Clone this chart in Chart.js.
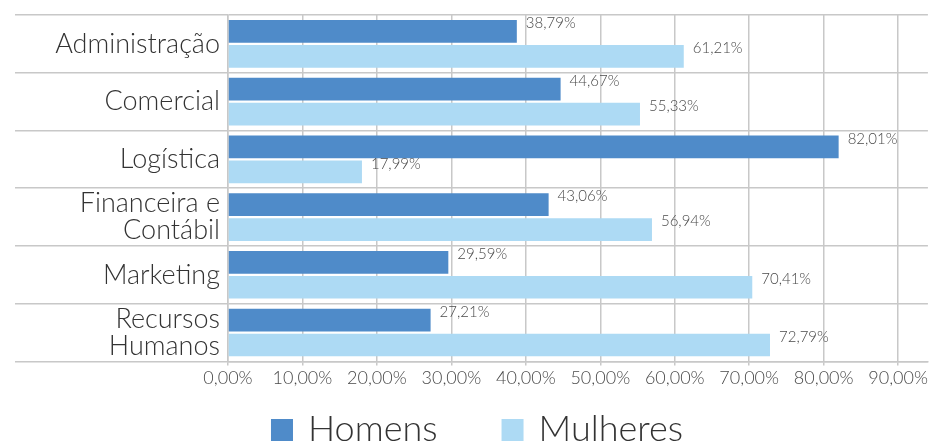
<!DOCTYPE html>
<html>
<head>
<meta charset="utf-8">
<script src="https://cdn.jsdelivr.net/npm/chart.js@4.4.1/dist/chart.umd.min.js"></script>
<style>
html, body { margin: 0; padding: 0; background: #fff; overflow: hidden; }
#wrap { width: 930px; height: 442px; position: relative; }
</style>
</head>
<body>
<div id="wrap"><canvas id="genderChart"></canvas></div>
<script>
const categories = ["Administração", "Comercial", "Logística", ["Financeira e", "Contábil"], "Marketing", ["Recursos", "Humanos"]];
const homens = [38.79, 44.67, 82.01, 43.06, 29.59, 27.21];
const mulheres = [61.21, 55.33, 17.99, 56.94, 70.41, 72.79];
const tickValues = [0, 10, 20, 30, 40, 50, 60, 70, 80, 90];

const FONT = "Lato";
const fmt = v => v.toFixed(2).replace(".", ",") + "%";

Chart.defaults.font.family = FONT;
Chart.defaults.font.weight = "300";

const barLabels = {
    id: "barLabels",
    afterDatasetsDraw(chart) {
        const ctx = chart.ctx;
        ctx.save();
        ctx.font = "300 15px " + FONT;
        ctx.fillStyle = "#4a4a4a";
        ctx.textAlign = "left";
        ctx.textBaseline = "middle";
        chart.data.datasets.forEach((ds, i) => {
            chart.getDatasetMeta(i).data.forEach((bar, j) => {
                ctx.fillText(fmt(ds.data[j]), bar.x + 9, bar.y - 8);
            });
        });
        ctx.restore();
    }
};

const bottomLegend = {
    id: "bottomLegend",
    afterDraw(chart) {
        const ctx = chart.ctx;
        ctx.save();
        ctx.font = "300 36px " + FONT;
        const items = chart.data.datasets.map(ds => ({
            label: ds.label,
            color: ds.backgroundColor,
            w: ctx.measureText(ds.label).width
        }));
        const box = 22, gapText = 15, gapItem = 64;
        const total = items.reduce((s, it) => s + box + gapText + it.w, 0) + gapItem * (items.length - 1);
        let x = 477 - total / 2;
        ctx.textBaseline = "alphabetic";
        items.forEach(it => {
            ctx.fillStyle = it.color;
            ctx.fillRect(x, 419, box, box);
            x += box + gapText;
            ctx.fillStyle = "#333333";
            ctx.fillText(it.label, x, 441);
            x += it.w + gapItem;
        });
        ctx.restore();
    }
};

new Chart(document.getElementById("genderChart"), {
    type: "bar",
    data: {
        labels: categories,
        datasets: [{
            label: "Homens",
            data: homens,
            backgroundColor: "#4f8bc9",
            categoryPercentage: 0.865,
            barPercentage: 0.908
        }, {
            label: "Mulheres",
            data: mulheres,
            backgroundColor: "#addaf4",
            categoryPercentage: 0.865,
            barPercentage: 0.908
        }]
    },
    options: {
        indexAxis: "y",
        responsive: true,
        maintainAspectRatio: false,
        animation: false,
        layout: { padding: { top: 15, bottom: 51, left: 0, right: 0 } },
        plugins: {
            legend: { display: false },
            tooltip: { enabled: false }
        },
        scales: {
            x: {
                min: 0,
                max: 94,
                afterBuildTicks: scale => { scale.ticks = tickValues.map(v => ({ value: v })); },
                grid: { color: "#c8c8c8", lineWidth: 1.5, tickLength: 4 },
                border: { color: "#c8c8c8", width: 1.5 },
                ticks: {
                    color: "#4a4a4a",
                    font: { size: 18 },
                    padding: 2,
                    maxRotation: 0,
                    autoSkip: false,
                    callback: v => fmt(v)
                }
            },
            y: {
                afterFit: scale => { scale.width = 228; },
                grid: { color: "#c8c8c8", lineWidth: 1.5, tickLength: 213, offset: true },
                border: { color: "#c8c8c8", width: 1.5 },
                ticks: {
                    color: "#333333",
                    font: { size: 27, lineHeight: 1.0 },
                    padding: -205,
                    autoSkip: false
                }
            }
        }
    },
    plugins: [barLabels, bottomLegend]
});
</script>
</body>
</html>
